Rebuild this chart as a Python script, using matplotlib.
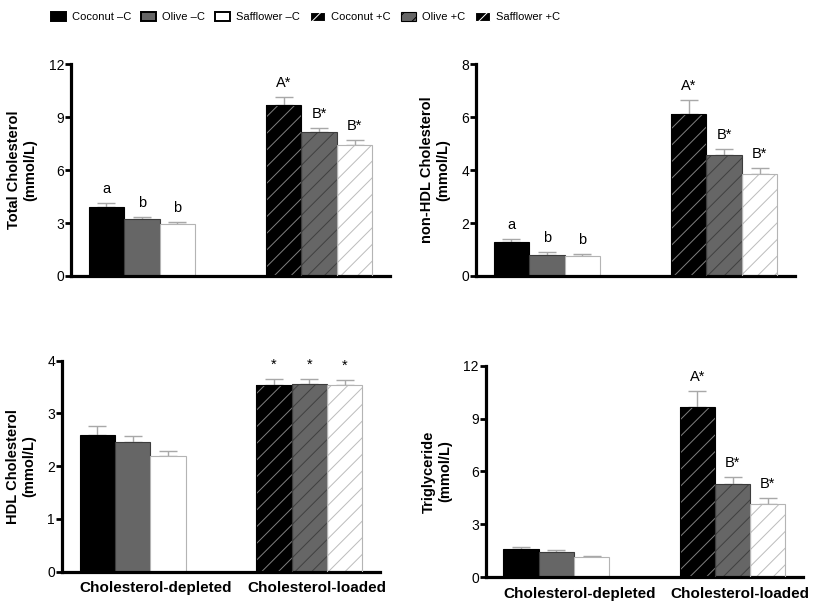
import numpy as np
import matplotlib
matplotlib.use("Agg")
import matplotlib.pyplot as plt
import matplotlib.patches as mpatches

plt.rcParams['font.family'] = ['Liberation Sans', 'DejaVu Sans']
plt.rcParams['hatch.linewidth'] = 0.7

# data
groups = ["Cholesterol-depleted", "Cholesterol-loaded"]
series = ["Coconut \u2013C", "Olive \u2013C", "Safflower \u2013C",
          "Coconut +C", "Olive +C", "Safflower +C"]

tc_mean = [3.93, 3.21, 2.97, 9.68, 8.15, 7.41]
tc_err = [0.19, 0.15, 0.09, 0.49, 0.22, 0.30]
tc_sig = ["a", "b", "b", "A*", "B*", "B*"]

nonhdl_mean = [1.28, 0.79, 0.77, 6.12, 4.57, 3.84]
nonhdl_err = [0.11, 0.10, 0.06, 0.52, 0.23, 0.23]
nonhdl_sig = ["a", "b", "b", "A*", "B*", "B*"]

hdl_mean = [2.59, 2.45, 2.19, 3.53, 3.56, 3.53]
hdl_err = [0.18, 0.13, 0.10, 0.13, 0.09, 0.11]
hdl_sig = ["", "", "", "*", "*", "*"]

tg_mean = [1.59, 1.42, 1.13, 9.64, 5.29, 4.16]
tg_err = [0.15, 0.13, 0.06, 0.92, 0.38, 0.32]
tg_sig = ["", "", "", "A*", "B*", "B*"]

# styles per series
faces = ['black', '#666666', 'white', 'black', '#666666', 'white']
edges = ['black', '#3c3c3c', '#b4b4b4', 'black', '#3c3c3c', '#b4b4b4']
hatch_col = [None, None, None, '#808080', '#404040', '#bcbcbc']
hatches = [None, None, None, '//', '//', '//']

xpos = np.concatenate([g * 5 + np.arange(3) for g in range(len(groups))])


def panel(ax, mean, err, sig, ylabel, ymax, step, xlabels):
    for i in range(len(series)):
        if hatches[i]:
            ax.bar(xpos[i], mean[i], 1.0, color=faces[i], edgecolor=hatch_col[i],
                   hatch=hatches[i], linewidth=0, zorder=2)
            ax.bar(xpos[i], mean[i], 1.0, fill=False, edgecolor=edges[i],
                   linewidth=0.8, zorder=3)
        else:
            ax.bar(xpos[i], mean[i], 1.0, color=faces[i], edgecolor=edges[i],
                   linewidth=0.8, zorder=2)
        ax.errorbar(xpos[i], mean[i], yerr=[[0], [err[i]]], color='#a8a8a8',
                    elinewidth=1.0, capsize=6.5, capthick=1.0, zorder=1)
        if sig[i]:
            ax.annotate(sig[i], (xpos[i], mean[i] + err[i]), xytext=(0, 5),
                        textcoords='offset points', ha='center', va='bottom',
                        fontsize=10.5)
    ax.set_xlim(-1, 8)
    ax.set_ylim(0, ymax)
    ax.set_yticks(np.arange(0, ymax + step / 2, step))
    ax.spines['top'].set_visible(False)
    ax.spines['right'].set_visible(False)
    ax.spines['left'].set_linewidth(2.3)
    ax.spines['bottom'].set_linewidth(2.3)
    ax.tick_params(axis='y', width=2.0, length=4, labelsize=10, pad=1)
    ax.tick_params(axis='x', length=0, labelsize=11, pad=7)
    if xlabels:
        ax.set_xticks([1.65, 6.2])
        ax.set_xticklabels(groups, fontweight='bold')
    else:
        ax.set_xticks([])
    ax.set_ylabel(ylabel, fontsize=10.5, fontweight='bold', labelpad=8)


fig = plt.figure(figsize=(8.22, 6.11), dpi=100)
ax1 = fig.add_axes([0.0864, 0.5483, 0.3881, 0.3465])
ax2 = fig.add_axes([0.5791, 0.5483, 0.3881, 0.3465])
ax3 = fig.add_axes([0.0754, 0.0643, 0.3869, 0.3454])
ax4 = fig.add_axes([0.5909, 0.0552, 0.3861, 0.3463])

panel(ax1, tc_mean, tc_err, tc_sig, "Total Cholesterol\n(mmol/L)", 12, 3, False)
panel(ax2, nonhdl_mean, nonhdl_err, nonhdl_sig, "non-HDL Cholesterol\n(mmol/L)", 8, 2, False)
panel(ax3, hdl_mean, hdl_err, hdl_sig, "HDL Cholesterol\n(mmol/L)", 4, 1, True)
panel(ax4, tg_mean, tg_err, tg_sig, "Triglyceride\n(mmol/L)", 12, 3, True)

handles = []
for i in range(len(series)):
    if hatches[i]:
        h = mpatches.Patch(facecolor='black' if i != 4 else faces[i],
                           edgecolor='white' if i != 4 else 'black',
                           hatch='//', linewidth=0.8, label=series[i])
    else:
        h = mpatches.Patch(facecolor=faces[i], edgecolor='black', linewidth=1.4,
                           label=series[i])
    handles.append(h)

fig.legend(handles=handles, loc='center left', bbox_to_anchor=(0.052, 0.972),
           ncol=6, frameon=False, handlelength=1.35, handleheight=0.85,
           handletextpad=0.55, columnspacing=0.9, borderpad=0.2,
           prop={'family': ['Liberation Sans Narrow', 'Liberation Sans'], 'size': 8})

fig.savefig("out.png", dpi=100)
